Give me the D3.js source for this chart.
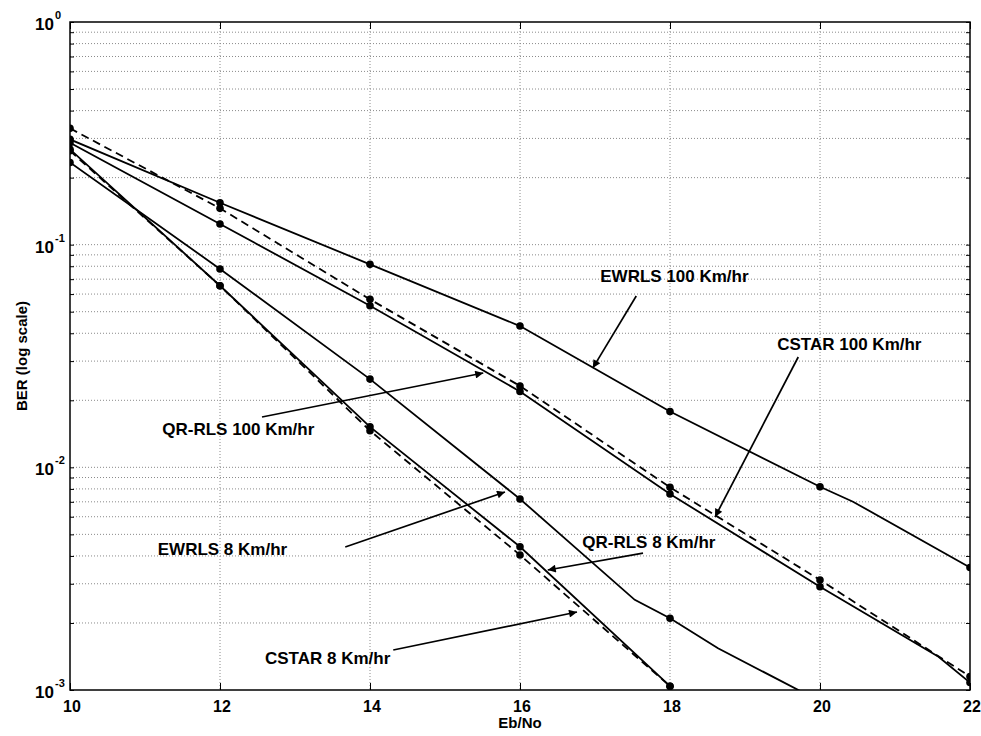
<!DOCTYPE html>
<html>
<head>
<meta charset="utf-8">
<script src="https://cdn.jsdelivr.net/npm/d3@7"></script>
<style>
  body { margin: 0; background: #fff; }
  svg { display: block; font-family: "Liberation Sans", Arial, sans-serif; }
  .grid line { stroke: #8a8a8a; stroke-width: 1; stroke-dasharray: 1,2; }
  .curve { fill: none; stroke: #000; stroke-width: 1.8; }
  .dashed { stroke-dasharray: 8,5; }
  .note { font-size: 17px; font-weight: bold; fill: #000; }
  .tick-label { font-size: 16px; font-weight: bold; fill: #000; }
</style>
</head>
<body>
<div id="chart"></div>
<script>
// x axis (Eb/No) ticks and y decades
const xTicks = [10, 12, 14, 16, 18, 20, 22];
const yDecades = [-3, -2, -1, 0];

// series vertices (markers are at the even Eb/No values)
const ewrls100X = [10, 12, 14, 16, 18, 20, 20.44, 22];
const ewrls100Y = [0.297, 0.1543, 0.0816, 0.0431, 0.0178, 0.00818, 0.00701, 0.00355];

const cstar100X = [10, 12, 14, 16, 18, 20, 22];
const cstar100Y = [0.333, 0.1456, 0.0568, 0.0232, 0.00813, 0.00312, 0.00115];

const qrrls100X = [10, 12, 14, 16, 18, 20, 21.58, 22];
const qrrls100Y = [0.287, 0.1239, 0.0532, 0.0219, 0.00759, 0.00291, 0.00141, 0.00108];

const ewrls8X = [10, 12, 14, 16, 17.53, 18, 18.64, 20];
const ewrls8Y = [0.234, 0.0778, 0.0249, 0.00721, 0.00254, 0.0021, 0.00154, 0.00089];

const qrrls8X = [10, 12, 14, 16, 18];
const qrrls8Y = [0.268, 0.0654, 0.0152, 0.0044, 0.00104];

const cstar8X = [10, 12, 14, 16, 18];
const cstar8Y = [0.264, 0.0654, 0.0146, 0.00404, 0.00104];

// annotation labels: text anchor and arrow tail/head, in data units
const noteText = ['EWRLS 100 Km/hr', 'CSTAR 100 Km/hr', 'QR-RLS 100 Km/hr', 'EWRLS 8 Km/hr', 'QR-RLS 8 Km/hr', 'CSTAR 8 Km/hr'];
const noteAt = [[17.07, 0.0683], [19.43, 0.0338], [11.23, 0.01404], [11.17, 0.00402], [16.83, 0.00432], [12.60, 0.001315]];
const arrowFrom = [[17.55, 0.0588], [19.71, 0.0313], [12.56, 0.01683], [13.67, 0.00439], [17.64, 0.00412], [14.31, 0.001512]];
const arrowTo = [[16.97, 0.0279], [18.60, 0.00598], [15.51, 0.02652], [15.80, 0.00775], [16.37, 0.00346], [16.76, 0.002241]];

let width = 981;
let height = 736;
let margin = { top: 22, right: 11, bottom: 46, left: 70 };

const series = [
    { xs: ewrls100X, ys: ewrls100Y, dashed: false },
    { xs: qrrls100X, ys: qrrls100Y, dashed: false },
    { xs: cstar100X, ys: cstar100Y, dashed: true },
    { xs: ewrls8X, ys: ewrls8Y, dashed: false },
    { xs: qrrls8X, ys: qrrls8Y, dashed: false },
    { xs: cstar8X, ys: cstar8Y, dashed: true },
].map(s => ({ ...s, pts: s.xs.map((x, i) => [x, s.ys[i]]) }));

const svg = d3.select('#chart')
    .append('svg')
    .attr('width', width)
    .attr('height', height);

const xScale = d3.scaleLinear()
    .domain([10, 22])
    .range([margin.left, width - margin.right]);

const yScale = d3.scaleLog()
    .domain([1e-3, 1])
    .range([height - margin.bottom, margin.top]);

// minor log positions for the grid
const yMinor = [];
for (let e = -3; e < 0; e++) {
    for (let m = 1; m <= 9; m++) yMinor.push(m * Math.pow(10, e));
}
yMinor.push(1);

svg.append('defs').append('clipPath')
    .attr('id', 'plot-clip')
    .append('rect')
    .attr('x', margin.left)
    .attr('y', margin.top)
    .attr('width', width - margin.left - margin.right)
    .attr('height', height - margin.top - margin.bottom);

svg.append('defs').append('marker')
    .attr('id', 'head')
    .attr('viewBox', '0 0 10 10')
    .attr('refX', 10)
    .attr('refY', 5)
    .attr('markerWidth', 12)
    .attr('markerHeight', 8)
    .attr('markerUnits', 'userSpaceOnUse')
    .attr('orient', 'auto')
    .append('path')
    .attr('d', 'M0,0 L10,5 L0,10 Z')
    .attr('fill', '#000');

// grid
const grid = svg.append('g').attr('class', 'grid');
grid.selectAll('.gx')
    .data(xTicks.slice(1, -1))
    .join('line')
    .attr('x1', d => xScale(d))
    .attr('x2', d => xScale(d))
    .attr('y1', margin.top)
    .attr('y2', height - margin.bottom);
grid.selectAll('.gy')
    .data(yMinor.filter(d => d > 1e-3 && d < 1))
    .join('line')
    .attr('x1', margin.left)
    .attr('x2', width - margin.right)
    .attr('y1', d => yScale(d))
    .attr('y2', d => yScale(d));

// inward ticks on all four sides
svg.append('g')
    .attr('transform', `translate(0, ${height - margin.bottom})`)
    .call(d3.axisBottom(xScale).tickValues(xTicks).tickSize(-7).tickFormat(''))
    .call(g => g.select('.domain').remove());
svg.append('g')
    .attr('transform', `translate(0, ${margin.top})`)
    .call(d3.axisTop(xScale).tickValues(xTicks).tickSize(-7).tickFormat(''))
    .call(g => g.select('.domain').remove());
svg.append('g')
    .attr('transform', `translate(${margin.left}, 0)`)
    .call(d3.axisLeft(yScale).tickValues(yMinor).tickSize(-4).tickFormat(''))
    .call(g => g.select('.domain').remove());
svg.append('g')
    .attr('transform', `translate(${width - margin.right}, 0)`)
    .call(d3.axisRight(yScale).tickValues(yMinor).tickSize(-4).tickFormat(''))
    .call(g => g.select('.domain').remove());

// curves
const line = d3.line()
    .x(d => xScale(d[0]))
    .y(d => yScale(d[1]));

const plot = svg.append('g').attr('clip-path', 'url(#plot-clip)');

plot.selectAll('.curve')
    .data(series)
    .join('path')
    .attr('class', d => d.dashed ? 'curve dashed' : 'curve')
    .attr('d', d => line(d.pts));

plot.selectAll('.dot')
    .data(series.flatMap(s => s.pts.filter(p => Number.isInteger(p[0]) && p[0] % 2 === 0)))
    .join('circle')
    .attr('cx', d => xScale(d[0]))
    .attr('cy', d => yScale(d[1]))
    .attr('r', 3.8)
    .attr('fill', '#000');

// frame
svg.append('rect')
    .attr('x', margin.left)
    .attr('y', margin.top)
    .attr('width', width - margin.left - margin.right)
    .attr('height', height - margin.top - margin.bottom)
    .attr('fill', 'none')
    .attr('stroke', '#000')
    .attr('stroke-width', 1.5);

// tick labels
svg.selectAll('.xl')
    .data(xTicks)
    .join('text')
    .attr('class', 'tick-label')
    .attr('x', d => xScale(d) + 2)
    .attr('y', height - margin.bottom + 22)
    .attr('text-anchor', 'middle')
    .text(d => d);

const yl = svg.selectAll('.yl')
    .data(yDecades)
    .join('g')
    .attr('transform', d => `translate(${margin.left - 16}, ${yScale(Math.pow(10, d))})`);
yl.append('text')
    .attr('class', 'tick-label')
    .style('font-size', '17px')
    .attr('text-anchor', 'end')
    .attr('y', 8)
    .text('10');
yl.append('text')
    .attr('class', 'tick-label')
    .style('font-size', '11px')
    .attr('x', 1)
    .attr('y', -3)
    .text(d => d === 0 ? '0' : '-' + Math.abs(d));

// axis titles
svg.append('text')
    .attr('x', (margin.left + width - margin.right) / 2)
    .attr('y', height - 8)
    .attr('text-anchor', 'middle')
    .style('font-size', '15px')
    .style('font-weight', 'bold')
    .text('Eb/No');

svg.append('text')
    .attr('transform', `translate(27, ${(margin.top + height - margin.bottom) / 2}) rotate(-90)`)
    .attr('text-anchor', 'middle')
    .style('font-size', '15px')
    .style('font-weight', 'bold')
    .text('BER (log scale)');

// annotations
const notes = svg.append('g');
notes.selectAll('text')
    .data(noteText)
    .join('text')
    .attr('class', 'note')
    .attr('x', (d, i) => xScale(noteAt[i][0]))
    .attr('y', (d, i) => yScale(noteAt[i][1]))
    .text(d => d);

notes.selectAll('line')
    .data(arrowFrom)
    .join('line')
    .attr('x1', d => xScale(d[0]))
    .attr('y1', d => yScale(d[1]))
    .attr('x2', (d, i) => xScale(arrowTo[i][0]))
    .attr('y2', (d, i) => yScale(arrowTo[i][1]))
    .attr('stroke', '#000')
    .attr('stroke-width', 1.7)
    .attr('marker-end', 'url(#head)');
</script>
</body>
</html>
